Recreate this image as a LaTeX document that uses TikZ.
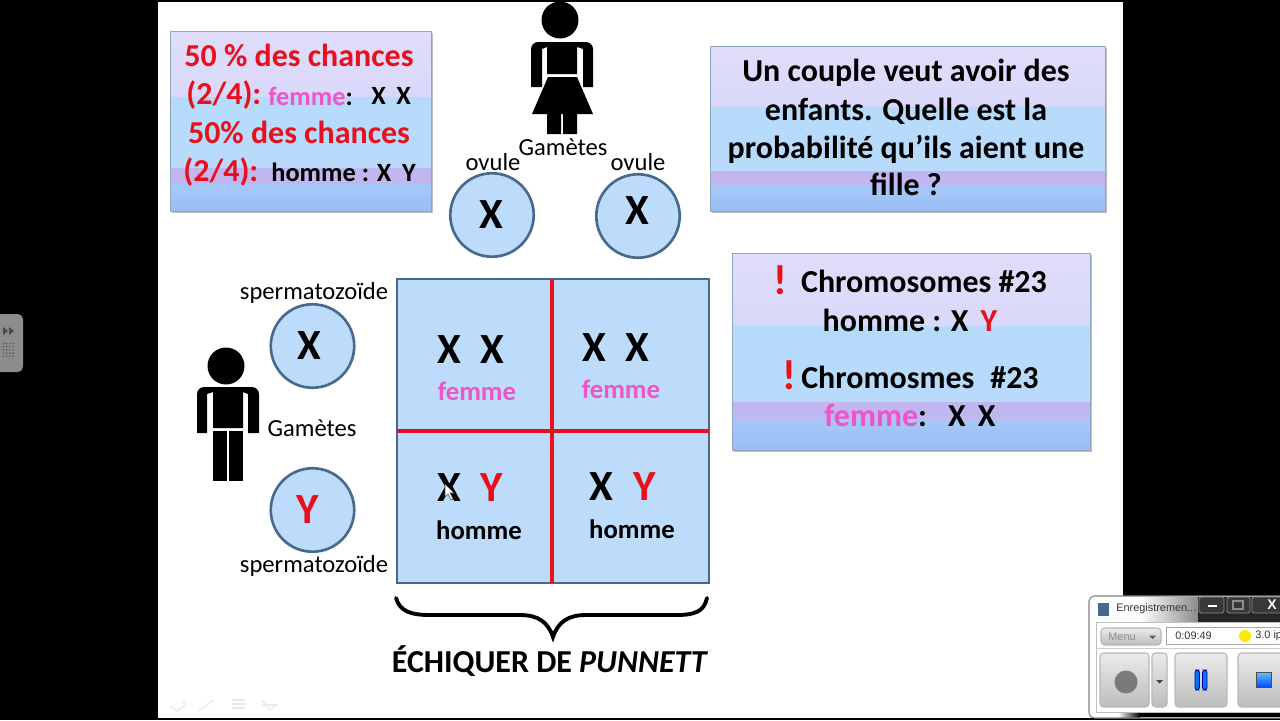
\documentclass[tikz,border=0pt]{standalone}
\usepackage{fontspec}
\setmainfont{Carlito}
\newfontfamily\uifont{Liberation Sans}
\usetikzlibrary{positioning, calc}
\definecolor{boxlav}{HTML}{E0DDFA}
\definecolor{boxlavb}{HTML}{DAD8FA}
\definecolor{boxmid}{HTML}{B6DBFA}
\definecolor{boxmidb}{HTML}{B9DAFB}
\definecolor{boxpur}{HTML}{C2B6F0}
\definecolor{boxblue}{HTML}{A6C8F8}
\definecolor{boxblueb}{HTML}{9ABDF5}
\definecolor{cellblue}{HTML}{BDDBFA}
\definecolor{rimblue}{HTML}{47698E}
\definecolor{cutred}{HTML}{E8101C}
\definecolor{femmepink}{HTML}{EE55C8}
\tikzset{
  box rim/.style={draw=rimblue!60, line width=0.5pt},
  box shadow/.style={fill=black!25},
  big line/.style={font=\bfseries\fontsize{18.2}{21}\selectfont, inner sep=0pt},
  bang/.style={font=\bfseries\fontsize{24}{26}\selectfont, inner sep=0pt, text=cutred},
  note line/.style={font=\fontsize{14}{16}\selectfont, inner sep=0pt},
  small bold/.style={font=\bfseries\fontsize{15}{17}\selectfont, inner sep=0pt},
  gamete/.style={circle, draw=rimblue, fill=cellblue, line width=1.5pt, minimum size=47.5pt, inner sep=0pt},
  big letter/.style={font=\bfseries\fontsize{24.5}{25}\selectfont, inner sep=0pt},
  sex label/.style={font=\bfseries\fontsize{15.2}{17}\selectfont, inner sep=0pt},
  ui text/.style={font=\uifont\fontsize{6.2}{7}\selectfont, inner sep=0pt, text=black!80},
  ui button/.style={rounded corners=2pt, draw=black!28, top color=black!8, bottom color=black!26, line width=0.6pt},
  title button/.style={rounded corners=1pt, draw=black!45, fill=black!78, line width=0.5pt}
}
% banded panel: name, x0, y0, x1, y1, then the three band limits
\newcommand{\bandpanel}[8]{
  \fill[box shadow] (#2+2,#3+2) rectangle (#4+2,#5+2);
  \shade[top color=boxlav, bottom color=boxlavb] (#2,#3) rectangle (#4,#6);
  \shade[top color=boxmid, bottom color=boxmidb] (#2,#6) rectangle (#4,#7);
  \fill[boxpur] (#2,#7) rectangle (#4,#8);
  \shade[top color=boxblue, bottom color=boxblueb] (#2,#8) rectangle (#4,#5);
  \draw[box rim] (#2,#3) rectangle (#4,#5);
  \coordinate (#1) at (#2,#3);
}
\begin{document}
\begin{tikzpicture}[x=0.02cm, y=-0.02cm]
  \useasboundingbox (0,0) rectangle (1280,720);
  \fill[black] (0,0) rectangle (1280,720);
  \fill[white] (158,1.5) rectangle (1123,718);

  % left toolbar
  \fill[black!45, rounded corners=3pt] (-10,314) rectangle (23,372);
  \fill[black!70] (3,327) -- (8,331) -- (3,335) -- cycle;
  \fill[black!70] (9,327) -- (14,331) -- (9,335) -- cycle;
  \foreach \i in {0,...,3}
    \foreach \j in {0,...,4}
      \fill[black!68] (3.5+\i*3.2,343.5+\j*3.2) circle (0.8);

  % upper left panel
  \bandpanel{panelA}{170}{31}{431}{211}{97}{168}{184}
  \node (a1) [big line, text=cutred] at (299,55.5) {50 \% des chances};
  \node (a2) [big line, text=cutred, anchor=west] at (186,95) {(2/4):};
  \node (a3) [small bold, anchor=west, text=femmepink] at (268,96) {femme\textcolor{black}{:}};
  \node (a4) [small bold, anchor=west] at (371,96) {X\hspace{6pt}X};
  \node (a5) [big line, text=cutred] at (299,132) {50\% des chances};
  \node (a6) [big line, text=cutred, anchor=west] at (183,172) {(2/4):};
  \node (a7) [small bold, anchor=west] at (271,172) {homme : X\hspace{6pt}Y};

  % upper right panel
  \bandpanel{panelB}{710}{46}{1105}{211}{107}{171}{186}
  \node (b1) [big line] at (906,73) {Un couple veut avoir des};
  \node (b2) [big line] at (906,111) {enfants. Quelle est la};
  \node (b3) [big line] at (906,149) {probabilité qu’ils aient une};
  \node (b4) [big line] at (906,184.5) {fille ?};

  % chromosome panel
  \bandpanel{panelC}{732}{253}{1090}{450}{326}{402}{419}
  \node (c1) [bang] at (780,280) {!};
  \node (c2) [big line] at (924,281) {Chromosomes \#23};
  \node (c3) [big line] at (910,320) {homme : X\hspace{7pt}\textcolor{cutred}{Y}};
  \node (c4) [bang] at (789,375) {!};
  \node (c5) [big line] at (920,377) {Chromosmes\hspace{5pt} \#23};
  \node (c6) [big line, text=femmepink] at (910,416) {femme\textcolor{black}{:\hspace{12pt}X\hspace{7pt}X}};

  % woman
  \fill (560,20) circle (18.5);
  \fill (531,87) [rounded corners=4pt] -- (531,42) -- (593,42) [sharp corners] -- (593,87) -- (583,87) -- (583,49) -- (577,47) -- (577,74) -- (547,74) -- (547,47) -- (542,49) -- (542,87) -- cycle;
  \fill (548,77) -- (577,77) -- (593,114) -- (577,114) -- (577,134) -- (563,134) -- (563,114) -- (561,114) -- (561,134) -- (547,134) -- (547,114) -- (532,114) -- cycle;
  \node (gamF) [note line] at (563,147) {Gamètes};
  \node (ovA) [note line] at (493,162) {ovule};
  \node (ovB) [note line] at (638,162) {ovule};

  % man
  \fill (226,366) circle (18.5);
  \fill (197,433) [rounded corners=4pt] -- (197,387) -- (259,387) [sharp corners] -- (259,433) -- (248,433) -- (248,394) -- (243,392) -- (243,428) -- (213,428) -- (213,392) -- (207,394) -- (207,433) -- cycle;
  \fill (213,431) rectangle (227,481);
  \fill (229,431) rectangle (243,481);
  \node (gamM) [note line] at (312,428) {Gamètes};
  \node (spA) [note line] at (314,292.5) {spermatozoïde};
  \node (spB) [note line] at (314,566) {spermatozoïde};

  % gametes
  \node (gA) [gamete] at (492,215) {};
  \node (gB) [gamete] at (638,216) {};
  \node (gC) [gamete] at (312.5,346) {};
  \node (gD) [gamete] at (312.5,510) {};
  \node (tA) [big letter] at (491,215) {X};
  \node (tB) [big letter] at (637,211) {X};
  \node (tC) [big letter] at (309.5,346) {X};
  \node (tD) [big letter, text=cutred] at (308,510) {Y};

  % square
  \draw[draw=rimblue, fill=cellblue, line width=1.3pt] (397,279) rectangle (709,583);
  \draw[cutred, line width=2.4pt] (552,279) -- (552,583);
  \draw[cutred, line width=2.4pt] (397,431) -- (709,431);

  \node (x1) [big letter] at (449.5,350) {X};
  \node (x2) [big letter] at (492.5,350) {X};
  \node (s1) [sex label, text=femmepink] at (477,391.5) {femme};
  \node (x3) [big letter] at (594,348) {X};
  \node (x4) [big letter] at (637,348) {X};
  \node (s2) [sex label, text=femmepink] at (621,389.5) {femme};
  \node (x5) [big letter] at (449.5,488) {X};
  \node (y5) [big letter, text=cutred] at (492,488) {Y};
  \node (s3) [sex label] at (479,530) {homme};
  \node (x6) [big letter] at (601,487) {X};
  \node (y6) [big letter, text=cutred] at (645,487) {Y};
  \node (s4) [sex label] at (632,529) {homme};

  % mouse pointer
  \draw[fill=white, draw=black!70, line width=0.3pt] (445,484) -- (445,497) -- (448,494) -- (451,500) -- (453,499) -- (450,493) -- (454,493) -- cycle;

  % brace
  \draw[line width=2.2pt, line cap=round] (396,598) .. controls (400,612) and (412,615) .. (430,615) -- (520,615) .. controls (538,615) and (548,622) .. (553,637) .. controls (558,622) and (568,615) .. (586,615) -- (676,615) .. controls (694,615) and (704,612) .. (707,598);
  \node (punnett) [font=\bfseries\fontsize{18.2}{21}\selectfont, inner sep=0pt] at (550,661) {ÉCHIQUER DE \textit{PUNNETT}};

  % slide navigation marks
  \draw[black!7, line width=0.9pt] (170,706) -- (177,711) -- (184,706) -- (184,701);
  \draw[black!7, line width=0.9pt] (199,711) -- (213,700);
  \draw[black!9, line width=0.9pt] (232,700) -- (246,700) (232,704) -- (246,704) (232,708) -- (246,708);
  \draw[black!7, line width=0.9pt] (262,700) -- (270,710) -- (276,705) -- (262,705);

  % recorder window
  \fill[white, rounded corners=3pt] (1089,596) rectangle (1300,718);
  \shade[left color=white, right color=black!45] (1140,597) rectangle (1198,622);
  \fill[black!85] (1198,597) rectangle (1280,622);
  \shade[left color=white, right color=black] (1118,712.5) rectangle (1140,717);
  \fill[black] (1140,712.5) rectangle (1280,717);
  \draw[black!50, rounded corners=3pt, line width=0.6pt] (1089,596) rectangle (1300,718);
  \fill[white] (1096,622) rectangle (1280,712);
  \draw[black!25, line width=0.5pt] (1096,622) -- (1280,622) (1096,622) -- (1096,712) -- (1280,712);
  \draw[black!20, line width=0.5pt] (1096,648) -- (1280,648);
  \fill[rimblue] (1098,603) rectangle (1109,616);
  \node (wtitle) [ui text, anchor=west] at (1116,609) {Enregistremen...};
  \draw[title button] (1199,597) rectangle (1224,613);
  \draw[title button] (1227,597) rectangle (1250,613);
  \draw[title button] (1252,597) rectangle (1285,613);
  \fill[white] (1208,604.5) rectangle (1217,607);
  \draw[black!45, line width=1pt] (1233,601) rectangle (1243,609);
  \node (wclose) [ui text, font=\uifont\bfseries\fontsize{8}{8}\selectfont, text=white] at (1272,605) {X};
  \draw[ui button] (1101,628) rectangle (1161,645);
  \node (wmenu) [ui text, text=black!45, anchor=west] at (1108,637) {Menu};
  \fill[black!65] (1149,635.5) -- (1156,635.5) -- (1152.5,639) -- cycle;
  \draw[black!35, line width=0.5pt] (1166,627) rectangle (1285,644);
  \node (wtime) [ui text, anchor=west] at (1175,636) {0:09:49};
  \fill[yellow!90!orange] (1245,636) circle (6);
  \node (wrate) [ui text, anchor=west] at (1255,636) {3.0 ip};
  \draw[ui button] (1100,653) rectangle (1149,707);
  \fill[black!52] (1126,682) circle (11.5);
  \draw[ui button] (1152,653) rectangle (1167,707);
  \fill[black!75] (1156,680) -- (1163,680) -- (1159.5,683.5) -- cycle;
  \draw[ui button] (1175,653) rectangle (1227,707);
  \draw[blue!60!black, fill=blue!55!cyan, rounded corners=1.5pt, line width=0.5pt] (1195,670) rectangle (1199.5,690);
  \draw[blue!60!black, fill=blue!55!cyan, rounded corners=1.5pt, line width=0.5pt] (1202.5,670) rectangle (1207,690);
  \draw[ui button] (1238,653) rectangle (1290,707);
  \draw[black!70, line width=0.5pt, top color=cyan!60!blue!60, bottom color=blue!70!cyan] (1256,672) rectangle (1271,687);
\end{tikzpicture}
\end{document}
